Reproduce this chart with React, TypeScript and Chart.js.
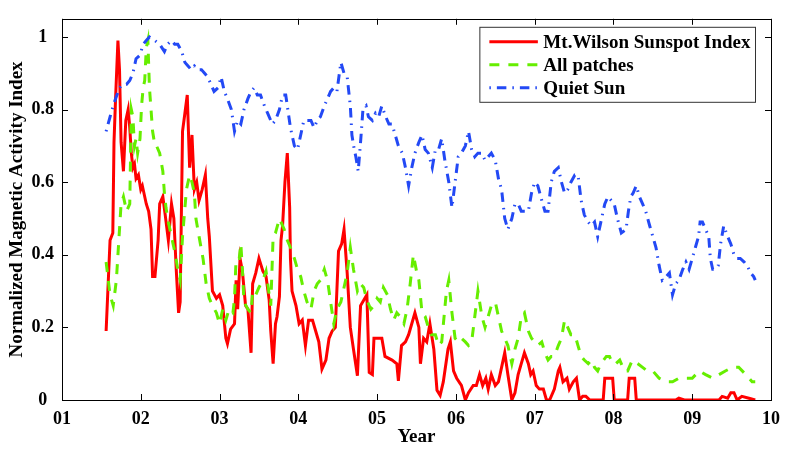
import React, { useRef, useEffect } from 'react';
import Chart from 'chart.js/auto';

// Mt.Wilson sunspot index (red, solid)
const sunspotYears = [1.56, 1.61, 1.645, 1.66, 1.68, 1.71, 1.73, 1.75, 1.78, 1.81, 1.84, 1.86, 1.88, 1.9, 1.92, 1.94, 1.97, 2.0, 2.02, 2.07, 2.1, 2.13, 2.15, 2.18, 2.22, 2.24, 2.28, 2.31, 2.35, 2.39, 2.42, 2.45, 2.48, 2.5, 2.53, 2.56, 2.59, 2.62, 2.65, 2.68, 2.71, 2.74, 2.78, 2.82, 2.85, 2.87, 2.91, 2.96, 3.0, 3.04, 3.08, 3.1, 3.14, 3.19, 3.21, 3.23, 3.26, 3.29, 3.33, 3.36, 3.4, 3.42, 3.46, 3.5, 3.55, 3.59, 3.63, 3.65, 3.68, 3.71, 3.73, 3.76, 3.78, 3.8, 3.83, 3.86, 3.89, 3.9, 3.92, 3.97, 4.01, 4.05, 4.09, 4.13, 4.18, 4.22, 4.26, 4.3, 4.35, 4.39, 4.43, 4.47, 4.51, 4.55, 4.58, 4.62, 4.66, 4.7, 4.75, 4.79, 4.83, 4.87, 4.9, 4.94, 4.96, 5.0, 5.06, 5.1, 5.19, 5.25, 5.27, 5.31, 5.36, 5.4, 5.44, 5.48, 5.53, 5.55, 5.59, 5.63, 5.67, 5.72, 5.76, 5.8, 5.84, 5.9, 5.93, 5.97, 6.01, 6.07, 6.12, 6.16, 6.22, 6.26, 6.3, 6.34, 6.38, 6.41, 6.45, 6.5, 6.54, 6.58, 6.62, 6.66, 6.71, 6.75, 6.79, 6.83, 6.87, 6.92, 6.95, 6.98, 7.02, 7.06, 7.11, 7.15, 7.19, 7.25, 7.3, 7.32, 7.36, 7.41, 7.44, 7.49, 7.53, 7.57, 7.61, 7.65, 7.7, 7.87, 7.89, 7.99, 8.01, 8.18, 8.2, 8.27, 8.29, 8.79, 8.83, 8.9, 9.34, 9.38, 9.45, 9.49, 9.53, 9.57, 9.63, 9.72, 9.8];
const sunspotIndex = [0.19, 0.44, 0.46, 0.71, 0.83, 0.99, 0.91, 0.71, 0.63, 0.77, 0.8, 0.75, 0.68, 0.64, 0.65, 0.61, 0.62, 0.58, 0.59, 0.54, 0.52, 0.47, 0.34, 0.34, 0.44, 0.54, 0.56, 0.51, 0.44, 0.54, 0.5, 0.36, 0.24, 0.27, 0.74, 0.79, 0.84, 0.64, 0.73, 0.58, 0.6, 0.55, 0.58, 0.62, 0.5, 0.45, 0.3, 0.28, 0.29, 0.26, 0.17, 0.155, 0.195, 0.21, 0.33, 0.25, 0.39, 0.355, 0.26, 0.25, 0.13, 0.32, 0.35, 0.39, 0.355, 0.34, 0.275, 0.19, 0.1, 0.21, 0.23, 0.285, 0.44, 0.48, 0.6, 0.68, 0.53, 0.39, 0.3, 0.26, 0.21, 0.22, 0.15, 0.22, 0.22, 0.19, 0.16, 0.085, 0.11, 0.17, 0.19, 0.2, 0.41, 0.43, 0.47, 0.35, 0.2, 0.14, 0.067, 0.26, 0.275, 0.29, 0.076, 0.07, 0.17, 0.17, 0.17, 0.12, 0.11, 0.1, 0.053, 0.15, 0.16, 0.18, 0.21, 0.24, 0.2, 0.1, 0.17, 0.16, 0.21, 0.14, 0.027, 0.013, 0.05, 0.14, 0.16, 0.08, 0.06, 0.04, 0.0, 0.02, 0.04, 0.04, 0.07, 0.04, 0.06, 0.03, 0.07, 0.04, 0.05, 0.09, 0.13, 0.07, 0.0, 0.02, 0.07, 0.1, 0.13, 0.1, 0.07, 0.08, 0.04, 0.03, 0.03, 0.0, 0.0, 0.03, 0.08, 0.09, 0.05, 0.06, 0.03, 0.05, 0.06, 0.0, 0.01, 0.01, 0.0, 0.0, 0.06, 0.06, 0.0, 0.0, 0.06, 0.06, 0.0, 0.0, 0.005, 0.0, 0.0, 0.01, 0.005, 0.02, 0.02, 0.0, 0.01, 0.005, 0.0];

// All patches (green, dashed)
const patchesYears = [1.56, 1.61, 1.65, 1.69, 1.73, 1.75, 1.78, 1.82, 1.86, 1.88, 1.9, 1.92, 1.94, 1.96, 1.99, 2.01, 2.03, 2.05, 2.07, 2.09, 2.11, 2.13, 2.15, 2.18, 2.2, 2.24, 2.28, 2.3, 2.32, 2.35, 2.39, 2.43, 2.47, 2.5, 2.53, 2.58, 2.62, 2.65, 2.68, 2.7, 2.74, 2.79, 2.83, 2.87, 2.91, 2.96, 3.0, 3.04, 3.08, 3.12, 3.17, 3.19, 3.21, 3.25, 3.27, 3.29, 3.31, 3.36, 3.4, 3.42, 3.46, 3.5, 3.55, 3.59, 3.63, 3.65, 3.68, 3.71, 3.76, 3.82, 3.86, 3.9, 3.95, 3.99, 4.03, 4.07, 4.11, 4.16, 4.2, 4.24, 4.28, 4.33, 4.37, 4.41, 4.45, 4.49, 4.54, 4.58, 4.62, 4.66, 4.7, 4.75, 4.79, 4.83, 4.87, 4.92, 4.96, 5.0, 5.04, 5.08, 5.13, 5.17, 5.21, 5.25, 5.29, 5.34, 5.38, 5.42, 5.46, 5.5, 5.53, 5.57, 5.61, 5.65, 5.69, 5.74, 5.78, 5.82, 5.88, 5.91, 5.95, 5.99, 6.03, 6.07, 6.12, 6.16, 6.2, 6.24, 6.28, 6.33, 6.37, 6.41, 6.45, 6.5, 6.54, 6.58, 6.62, 6.66, 6.71, 6.75, 6.79, 6.83, 6.87, 6.92, 6.96, 7.0, 7.04, 7.09, 7.13, 7.17, 7.21, 7.25, 7.3, 7.34, 7.38, 7.42, 7.46, 7.51, 7.55, 7.59, 7.63, 7.68, 7.72, 7.76, 7.8, 7.84, 7.91, 7.95, 7.99, 8.03, 8.08, 8.14, 8.18, 8.24, 8.31, 8.37, 8.43, 8.5, 8.58, 8.67, 8.75, 8.83, 8.92, 9.0, 9.09, 9.17, 9.26, 9.34, 9.42, 9.51, 9.59, 9.68, 9.76, 9.8];
const patchesIndex = [0.38, 0.29, 0.26, 0.33, 0.47, 0.54, 0.56, 0.52, 0.54, 0.8, 0.78, 0.7, 0.72, 0.68, 0.72, 0.81, 0.86, 0.88, 0.97, 0.99, 0.86, 0.8, 0.74, 0.7, 0.7, 0.68, 0.63, 0.57, 0.53, 0.49, 0.45, 0.41, 0.36, 0.33, 0.45, 0.58, 0.62, 0.6, 0.57, 0.5, 0.45, 0.39, 0.32, 0.28, 0.26, 0.24, 0.21, 0.25, 0.22, 0.25, 0.24, 0.28, 0.39, 0.39, 0.43, 0.36, 0.27, 0.25, 0.24, 0.3, 0.29, 0.31, 0.33, 0.355, 0.29, 0.26, 0.45, 0.46, 0.5, 0.47, 0.44, 0.42, 0.39, 0.36, 0.34, 0.3, 0.27, 0.25, 0.3, 0.32, 0.33, 0.36, 0.33, 0.27, 0.21, 0.25, 0.27, 0.31, 0.35, 0.42, 0.36, 0.3, 0.32, 0.31, 0.275, 0.25, 0.26, 0.28, 0.27, 0.31, 0.29, 0.25, 0.22, 0.24, 0.23, 0.21, 0.25, 0.32, 0.4, 0.355, 0.33, 0.24, 0.23, 0.2, 0.18, 0.18, 0.15, 0.16, 0.3, 0.33, 0.24, 0.17, 0.16, 0.17, 0.16, 0.15, 0.16, 0.23, 0.3, 0.23, 0.2, 0.23, 0.26, 0.27, 0.23, 0.19, 0.17, 0.15, 0.1, 0.14, 0.17, 0.23, 0.24, 0.19, 0.17, 0.16, 0.15, 0.16, 0.13, 0.11, 0.12, 0.12, 0.15, 0.17, 0.22, 0.2, 0.18, 0.18, 0.15, 0.12, 0.11, 0.1, 0.11, 0.09, 0.08, 0.1, 0.12, 0.12, 0.1, 0.1, 0.11, 0.08, 0.08, 0.11, 0.1, 0.09, 0.08, 0.08, 0.06, 0.05, 0.05, 0.06, 0.06, 0.06, 0.08, 0.07, 0.06, 0.07, 0.08, 0.09, 0.09, 0.07, 0.05, 0.05];

// Quiet Sun (blue, dash-dot)
const quietYears = [1.56, 1.61, 1.65, 1.68, 1.73, 1.78, 1.82, 1.86, 1.9, 1.94, 1.99, 2.03, 2.07, 2.11, 2.18, 2.24, 2.3, 2.34, 2.39, 2.43, 2.47, 2.52, 2.56, 2.6, 2.64, 2.68, 2.72, 2.77, 2.81, 2.85, 2.89, 2.93, 2.98, 3.02, 3.06, 3.1, 3.15, 3.19, 3.23, 3.27, 3.31, 3.36, 3.4, 3.44, 3.48, 3.52, 3.57, 3.61, 3.65, 3.67, 3.71, 3.76, 3.8, 3.84, 3.86, 3.9, 3.95, 3.99, 4.03, 4.07, 4.12, 4.16, 4.2, 4.24, 4.28, 4.33, 4.37, 4.41, 4.45, 4.49, 4.54, 4.58, 4.62, 4.66, 4.68, 4.71, 4.73, 4.76, 4.79, 4.82, 4.86, 4.89, 4.94, 4.98, 5.02, 5.06, 5.11, 5.15, 5.19, 5.23, 5.27, 5.32, 5.36, 5.4, 5.44, 5.48, 5.53, 5.57, 5.61, 5.65, 5.7, 5.74, 5.78, 5.82, 5.86, 5.91, 5.95, 5.99, 6.03, 6.07, 6.12, 6.16, 6.2, 6.24, 6.28, 6.33, 6.37, 6.41, 6.45, 6.5, 6.54, 6.58, 6.62, 6.66, 6.71, 6.75, 6.79, 6.83, 6.87, 6.92, 6.96, 7.0, 7.04, 7.09, 7.13, 7.17, 7.21, 7.25, 7.3, 7.34, 7.38, 7.42, 7.46, 7.51, 7.55, 7.59, 7.63, 7.68, 7.72, 7.76, 7.8, 7.84, 7.89, 7.93, 7.97, 8.01, 8.05, 8.1, 8.16, 8.19, 8.22, 8.25, 8.29, 8.33, 8.37, 8.41, 8.46, 8.5, 8.54, 8.58, 8.62, 8.67, 8.71, 8.75, 8.79, 8.83, 8.88, 8.92, 8.96, 9.0, 9.04, 9.08, 9.1, 9.13, 9.17, 9.21, 9.23, 9.26, 9.3, 9.33, 9.36, 9.4, 9.45, 9.49, 9.53, 9.57, 9.61, 9.66, 9.7, 9.74, 9.78, 9.8];
const quietIndex = [0.74, 0.78, 0.81, 0.83, 0.86, 0.87, 0.87, 0.88, 0.9, 0.94, 0.95, 0.98, 0.99, 1.0, 0.99, 0.98, 0.96, 0.98, 0.99, 0.98, 0.98, 0.96, 0.93, 0.92, 0.91, 0.92, 0.91, 0.91, 0.9, 0.89, 0.87, 0.85, 0.86, 0.89, 0.85, 0.83, 0.8, 0.74, 0.77, 0.76, 0.8, 0.83, 0.85, 0.86, 0.84, 0.84, 0.81, 0.79, 0.77, 0.76, 0.77, 0.8, 0.84, 0.84, 0.81, 0.75, 0.7, 0.69, 0.73, 0.77, 0.77, 0.77, 0.75, 0.77, 0.78, 0.81, 0.83, 0.85, 0.86, 0.85, 0.93, 0.9, 0.89, 0.81, 0.73, 0.69, 0.67, 0.63, 0.71, 0.8, 0.81, 0.78, 0.77, 0.79, 0.78, 0.81, 0.78, 0.76, 0.76, 0.73, 0.7, 0.68, 0.64, 0.59, 0.64, 0.68, 0.71, 0.73, 0.69, 0.68, 0.64, 0.69, 0.69, 0.72, 0.66, 0.6, 0.53, 0.6, 0.67, 0.68, 0.7, 0.74, 0.69, 0.67, 0.68, 0.68, 0.66, 0.67, 0.68, 0.66, 0.61, 0.58, 0.5, 0.47, 0.5, 0.54, 0.54, 0.52, 0.52, 0.52, 0.57, 0.6, 0.59, 0.55, 0.52, 0.52, 0.6, 0.63, 0.64, 0.6, 0.57, 0.58, 0.6, 0.62, 0.62, 0.55, 0.51, 0.49, 0.48, 0.49, 0.45, 0.49, 0.54, 0.56, 0.55, 0.54, 0.5, 0.46, 0.47, 0.52, 0.56, 0.57, 0.59, 0.56, 0.54, 0.52, 0.48, 0.45, 0.42, 0.37, 0.33, 0.34, 0.35, 0.29, 0.32, 0.33, 0.36, 0.38, 0.36, 0.39, 0.42, 0.45, 0.49, 0.49, 0.47, 0.45, 0.39, 0.36, 0.36, 0.37, 0.43, 0.48, 0.45, 0.43, 0.4, 0.39, 0.39, 0.38, 0.37, 0.35, 0.34, 0.33];

const serif = '"Liberation Serif", "Times New Roman", serif';

const toPoints = (xs: number[], ys: number[]) => xs.map((x, i) => ({ x, y: ys[i] }));

// box + inward ticks on all four sides, like the matlab figure
const frameTicks = {
  id: 'frameTicks',
  afterDraw(chart: any) {
    const { ctx, chartArea: a, scales } = chart;
    const len = 6;
    ctx.save();
    ctx.strokeStyle = '#000';
    ctx.lineWidth = 1;
    ctx.beginPath();
    scales.x.ticks.forEach((t: any) => {
      const px = Math.round(scales.x.getPixelForValue(t.value)) + 0.5;
      ctx.moveTo(px, a.bottom); ctx.lineTo(px, a.bottom - len);
      ctx.moveTo(px, a.top); ctx.lineTo(px, a.top + len);
    });
    scales.y.ticks.forEach((t: any) => {
      const py = Math.round(scales.y.getPixelForValue(t.value)) + 0.5;
      ctx.moveTo(a.left, py); ctx.lineTo(a.left + len, py);
      ctx.moveTo(a.right, py); ctx.lineTo(a.right - len, py);
    });
    ctx.stroke();
    ctx.strokeRect(Math.round(a.left) + 0.5, Math.round(a.top) + 0.5, Math.round(a.right - a.left), Math.round(a.bottom - a.top));
    ctx.restore();
  },
};

// legend box inside the plot, top right
const legendBox = {
  id: 'legendBox',
  afterDraw(chart: any) {
    const { ctx, chartArea: a } = chart;
    const sets = chart.data.datasets;
    ctx.save();
    ctx.font = `bold 19px ${serif}`;
    const textW = Math.max(...sets.map((d: any) => ctx.measureText(d.label).width));
    const w = 9.5 + 48.5 + 5.5 + textW + 5;
    const h = 75;
    const right = a.right - 15.5;
    const top = a.top + 8.5;
    const left = right - w;
    ctx.fillStyle = '#fff';
    ctx.fillRect(left, top, w, h);
    ctx.strokeStyle = '#333';
    ctx.lineWidth = 1;
    ctx.strokeRect(left, top, w, h);
    sets.forEach((d: any, i: number) => {
      const y = top + 14.5 + i * 23;
      ctx.beginPath();
      ctx.setLineDash(d.borderDash || []);
      ctx.strokeStyle = d.borderColor;
      ctx.lineWidth = d.borderWidth;
      ctx.moveTo(left + 9.5, y);
      ctx.lineTo(left + 58, y);
      ctx.stroke();
      ctx.setLineDash([]);
      ctx.fillStyle = '#000';
      ctx.textBaseline = 'middle';
      ctx.fillText(d.label, left + 63.5, y + 1);
    });
    ctx.restore();
  },
};

const App: React.FC = () => {
  const canvasRef = useRef<HTMLCanvasElement | null>(null);

  useEffect(() => {
    if (!canvasRef.current) return;
    const tickFont = { family: serif, size: 18, weight: 'bold' as const };
    const titleFont = { family: serif, size: 19, weight: 'bold' as const };
    const chart = new Chart(canvasRef.current, {
      type: 'line',
      data: {
        datasets: [
          {
            label: 'Mt.Wilson Sunspot Index',
            data: toPoints(sunspotYears, sunspotIndex),
            borderColor: '#ff0000',
            borderWidth: 3,
            order: 3,
          },
          {
            label: 'All patches',
            data: toPoints(patchesYears, patchesIndex),
            borderColor: '#66ee00',
            borderWidth: 3,
            borderDash: [10, 9],
            order: 2,
          },
          {
            label: 'Quiet Sun',
            data: toPoints(quietYears, quietIndex),
            borderColor: '#2349f5',
            borderWidth: 3,
            borderDash: [1.5, 6, 9.5, 6],
            order: 1,
          },
        ],
      },
      options: {
        responsive: false,
        animation: false,
        layout: { padding: { top: 6, right: 15, left: 0, bottom: 0 } },
        elements: {
          point: { radius: 0, hitRadius: 0 },
          line: { tension: 0, fill: false, borderCapStyle: 'butt', borderJoinStyle: 'miter' },
        },
        plugins: {
          legend: { display: false },
          tooltip: { enabled: false },
        },
        scales: {
          x: {
            type: 'linear',
            min: 1,
            max: 10,
            afterFit: (s: any) => { s.height = 58; },
            grid: { display: false, drawTicks: false },
            border: { display: false },
            ticks: {
              stepSize: 1,
              autoSkip: false,
              maxRotation: 0,
              padding: 9,
              color: '#000',
              font: tickFont,
              callback: (v: any) => (v < 10 ? '0' : '') + v,
            },
            title: {
              display: true,
              text: 'Year',
              color: '#000',
              font: titleFont,
              padding: { top: 0, bottom: 10 },
            },
          },
          y: {
            min: 0,
            max: 1.05,
            afterFit: (s: any) => { s.width = 62; },
            grid: { display: false, drawTicks: false },
            border: { display: false },
            ticks: {
              stepSize: 0.2,
              includeBounds: false,
              crossAlign: 'center',
              padding: 8,
              color: '#000',
              font: tickFont,
              callback: (v: any) => String(Math.round(Number(v) * 10) / 10),
            },
            title: {
              display: true,
              text: 'Normalized Magnetic Activity Index',
              color: '#000',
              font: titleFont,
              padding: { top: 6, bottom: 0 },
            },
          },
        },
      },
      plugins: [frameTicks, legendBox],
    });
    return () => {
      chart.destroy();
    };
  }, []);

  return (
    <div style={{ position: 'absolute', left: 0, top: 0, width: 789, height: 458, background: '#fff' }}>
      <canvas ref={canvasRef} width={789} height={458} style={{ display: 'block' }} />
    </div>
  );
};

export default App;
